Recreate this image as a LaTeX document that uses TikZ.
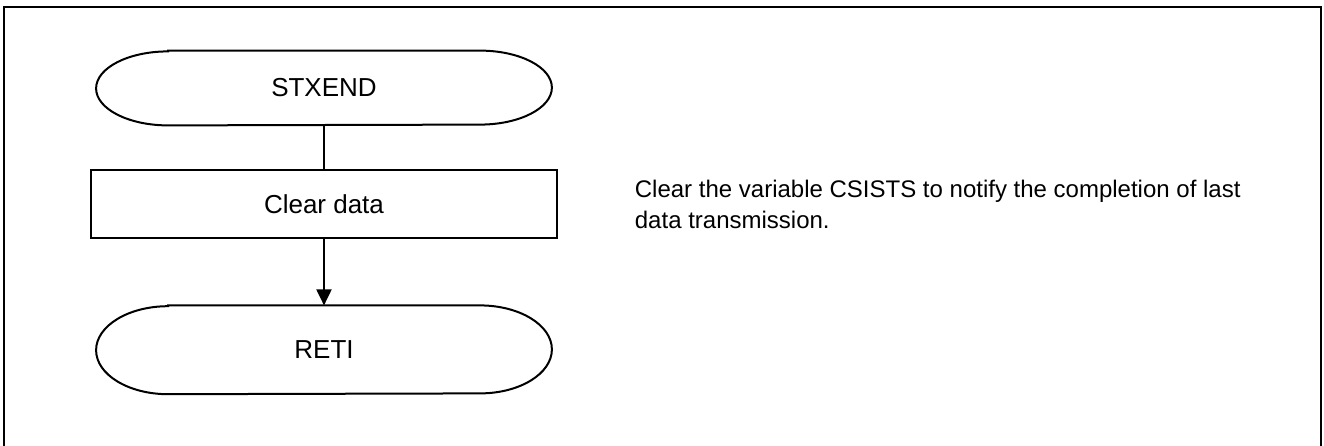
\documentclass[tikz,border=0pt]{standalone}
\usepackage{fontspec}
\setmainfont{Liberation Sans}
\usetikzlibrary{positioning,arrows.meta}

\tikzset{
	terminal/.style={minimum width=227.5pt,minimum height=#1,font=\fontsize{13}{15.5}\selectfont},
	process/.style={draw,line width=1pt,minimum width=232.5pt,minimum height=34pt,font=\fontsize{13}{15.5}\selectfont},
	frame/.style={line width=1.3pt},
	flow/.style={line width=1pt},
}

\begin{document}
\begin{tikzpicture}[font=\fontsize{12}{15.5}\selectfont]
	\useasboundingbox (-162pt,-178.5pt) rectangle (500pt,44pt);
	\draw[frame] (-160pt,-181pt)--(-160pt,40.5pt)--(498.5pt,40.5pt)--(498.5pt,-181pt);

	\node (stxend)[terminal=37pt]{STXEND};
	\node (clear)[process,below=22pt of stxend]{Clear data};
	\node (reti)[terminal=44pt,below=33pt of clear]{RETI};
	\node (note)[right=38.5pt of clear,align=left,inner sep=0pt]{Clear the variable CSISTS to notify the completion of last\\
		data transmission.};

	% outline of the start and end nodes
	\foreach \n/\r in {stxend/18.5pt,reti/22pt}
		\draw[flow] ([xshift=36pt]\n.north west)--([xshift=-36pt]\n.north east)
			arc[start angle=90,end angle=-90,x radius=36pt,y radius=\r]
			--([xshift=36pt]\n.south west)
			arc[start angle=270,end angle=90,x radius=36pt,y radius=\r]--cycle;

	% draw the connections
	\draw[flow] (stxend)--(clear);
	\draw[flow,-{Triangle[length=8pt,width=7.5pt]}] (clear)--(reti);
\end{tikzpicture}
\end{document}
